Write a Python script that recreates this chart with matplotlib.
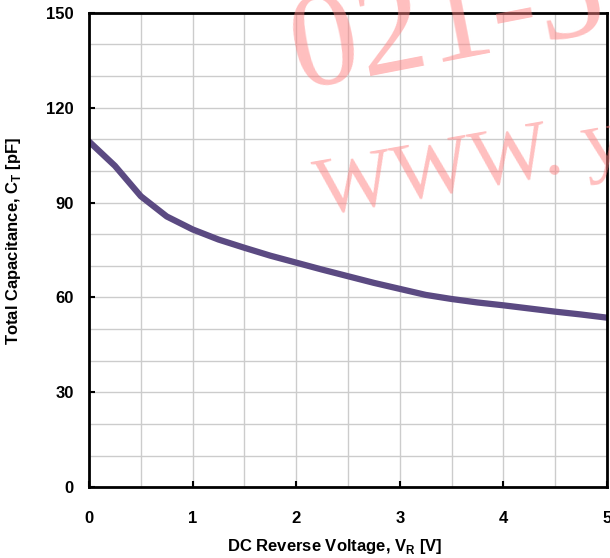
import numpy as np
import matplotlib.pyplot as plt

v_r = [0.0, 0.25, 0.5, 0.75, 1.0, 1.25, 1.5, 1.75, 2.0, 2.25, 2.5, 2.75,
       3.0, 3.25, 3.5, 3.75, 4.0, 4.25, 4.5, 4.75, 5.0]
c_t = [109.3, 101.6, 92.0, 85.6, 81.5, 78.3, 75.7, 73.2, 71.0, 68.8, 66.7, 64.6,
       62.7, 60.8, 59.5, 58.4, 57.5, 56.5, 55.5, 54.6, 53.6]

x_ticks = [0, 1, 2, 3, 4, 5]
y_ticks = [0, 30, 60, 90, 120, 150]

plt.rcParams['font.family'] = ['Liberation Sans', 'DejaVu Sans']
plt.rcParams['font.weight'] = 'bold'
plt.rcParams['mathtext.fontset'] = 'custom'
plt.rcParams['mathtext.rm'] = 'Liberation Sans:bold'
plt.rcParams['mathtext.bf'] = 'Liberation Sans:bold'

fig = plt.figure(figsize=(6.1, 5.58), dpi=100)
ax = fig.add_axes([0.146, 0.127, 0.849, 0.85])

# Rejilla fina
ax.set_xticks(np.arange(0, 5.01, 0.5), minor=True)
ax.set_yticks(np.arange(0, 150.1, 10), minor=True)
ax.grid(True, which='both', color='#cccccc', lw=1.0, zorder=0)

ax.plot(v_r, c_t, '-', color='#5b4a82', lw=4.5, solid_capstyle='round', zorder=3)

ax.set_xlim(0, 5)
ax.set_ylim(0, 150)
ax.set_xticks(x_ticks)
ax.set_yticks(y_ticks)
ax.tick_params(which='major', direction='in', length=4, width=1.5, labelsize=12)
ax.tick_params(which='minor', length=0)
ax.tick_params(axis='x', pad=17)
ax.tick_params(axis='y', pad=11)
for s in ax.spines.values():
    s.set_linewidth(2)
    s.set_zorder(4)

ax.set_xlabel(r'DC Reverse Voltage, V$_\mathrm{R}$ [V]', fontsize=12, fontweight='bold')
ax.set_ylabel(r'Total Capacitance, C$_\mathrm{T}$ [pF]', fontsize=12, fontweight='bold')
ax.xaxis.set_label_coords(0.475, -0.105)
ax.yaxis.set_label_coords(-0.128, 0.52)

# Marca de agua
fig.text(0.49, 0.84, '021-5', fontsize=98, family='Liberation Serif', weight='normal',
         color='#ff8080', alpha=0.5, rotation=11, rotation_mode='anchor',
         ha='left', va='baseline', zorder=5)
fig.text(0.525, 0.615, 'WWW. y', fontsize=60, family='Liberation Serif', weight='normal',
         color='#ff8080', alpha=0.5, rotation=10, rotation_mode='anchor',
         ha='left', va='baseline', zorder=5)

plt.savefig('out.png', dpi=100)
